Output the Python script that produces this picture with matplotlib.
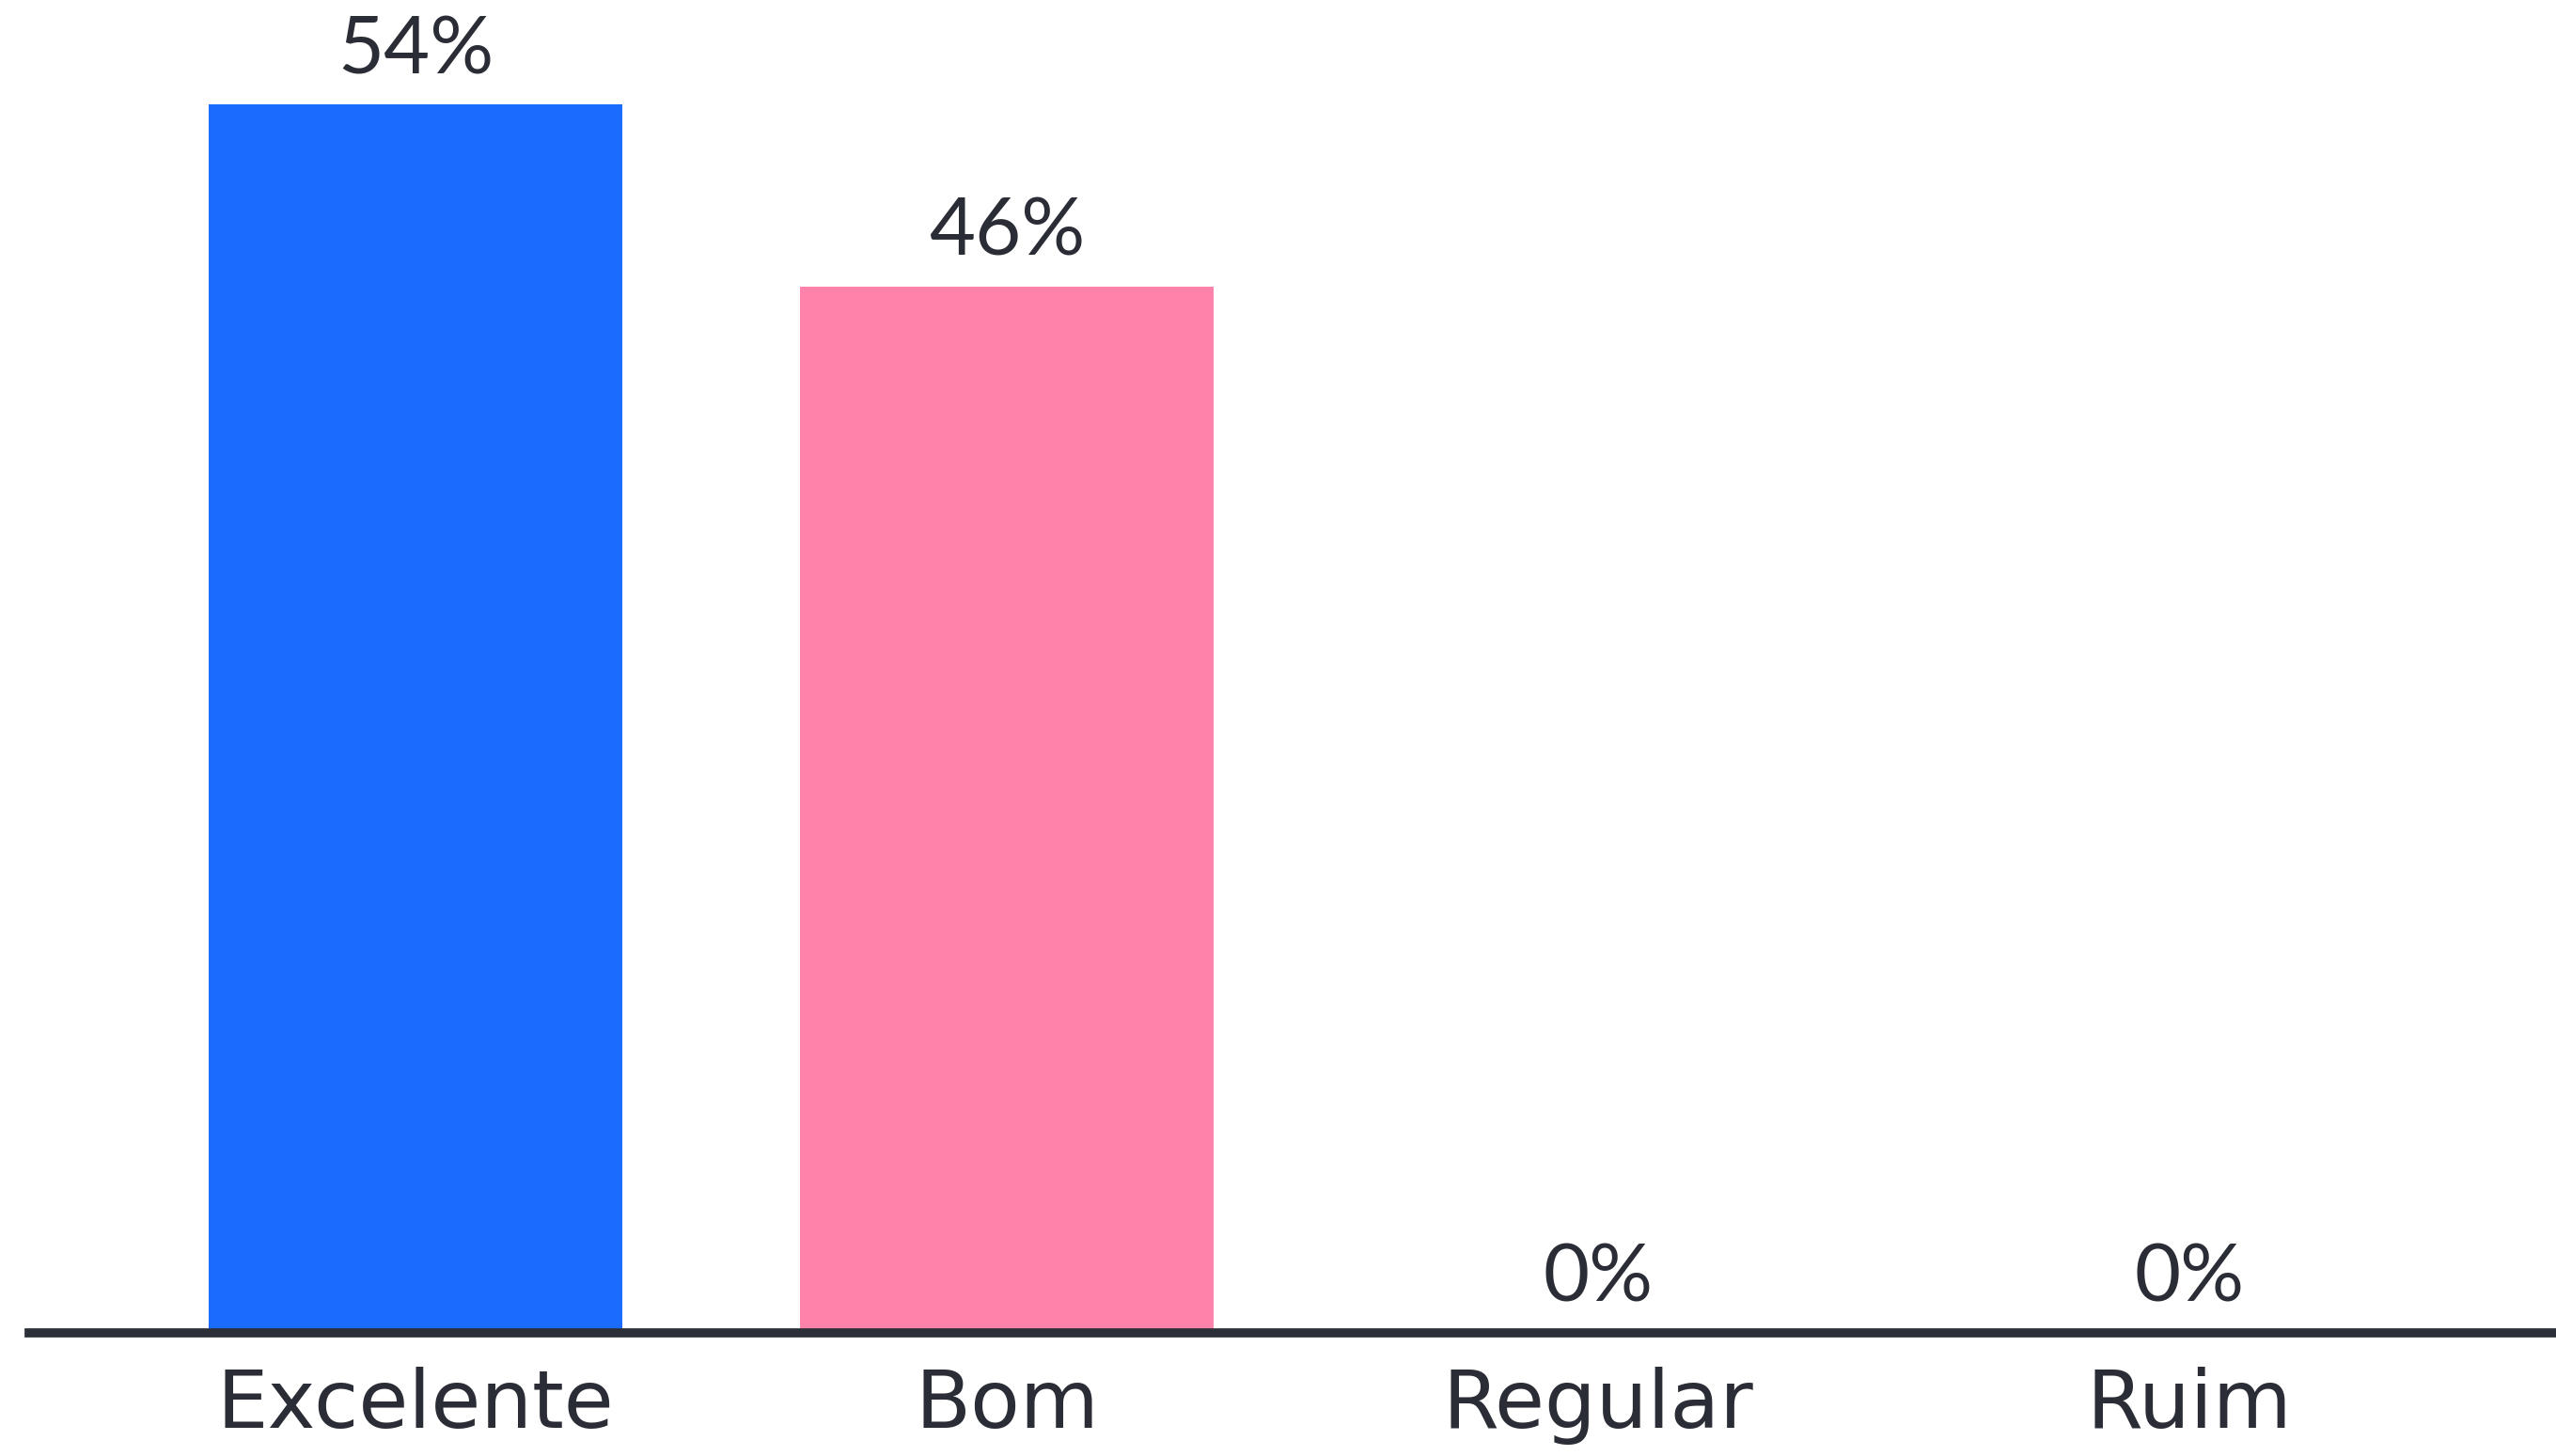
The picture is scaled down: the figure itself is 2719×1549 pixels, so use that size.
import matplotlib
matplotlib.use("Agg")
import matplotlib.pyplot as plt

# Survey results
categories = ["Excelente", "Bom", "Regular", "Ruim"]
values = [54, 46, 0, 0]
colors = ["#1c6bff", "#ff82aa", "#1c6bff", "#ff82aa"]

plt.rcParams['font.family'] = ['Lato', 'DejaVu Sans']
text_color = "#2a2d35"

fig = plt.figure(figsize=(27.19, 15.49), dpi=100)
ax = fig.add_axes([0, 0.0846, 1, 0.9154])

x = list(range(len(categories)))
bars = ax.bar(x, values, width=0.70, color=colors, zorder=2)

# value labels above the bars
for xi, v in zip(x, values):
    ax.annotate(f"{v}%", (xi, v), xytext=(0, 13), textcoords="offset points",
                ha="center", va="bottom", fontsize=61, color=text_color)

ax.set_xlim(-0.703, 3.62)
ax.set_ylim(0, 58.6)
ax.set_xticks(x)
ax.set_xticklabels(categories, fontsize=62, color=text_color,
                   family=['DejaVu Sans'])
ax.tick_params(axis="x", length=0, pad=26)
ax.set_yticks([])

for side in ["top", "right", "left"]:
    ax.spines[side].set_visible(False)
ax.spines["bottom"].set_color("#2b2f38")
ax.spines["bottom"].set_linewidth(7)
ax.spines["bottom"].set_bounds(-0.654, 3.62)
ax.spines["bottom"].set_zorder(3)

fig.savefig("out.png", dpi=100, facecolor="white")
